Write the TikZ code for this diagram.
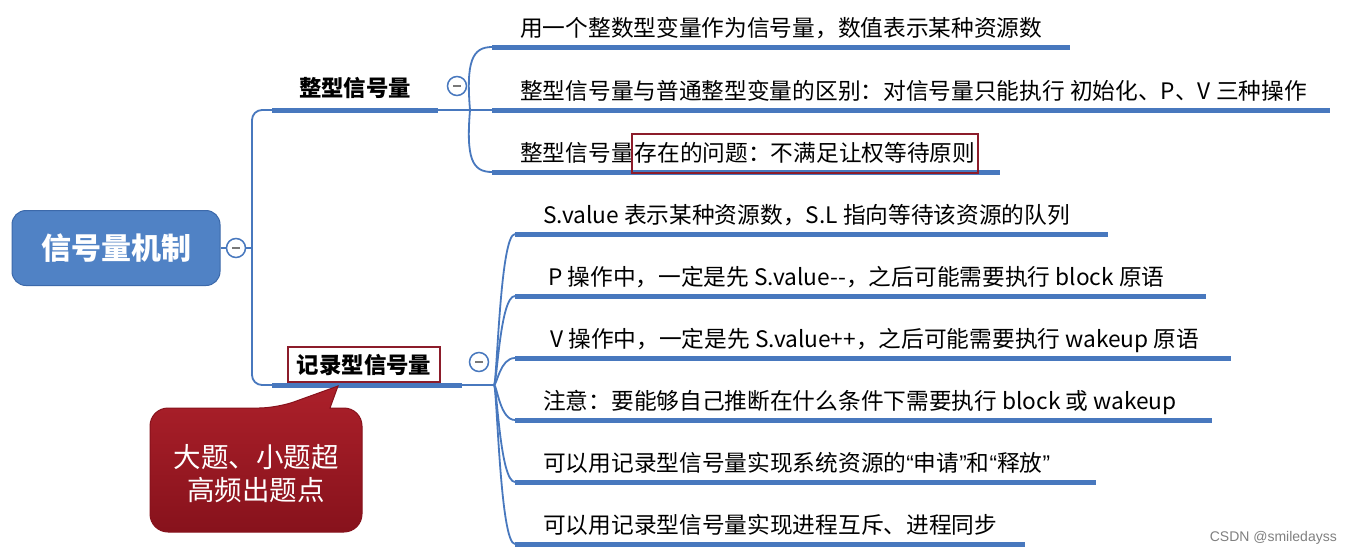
\documentclass[tikz,border=0pt]{standalone}
\usepackage{fontspec}
\setmainfont{Noto Sans CJK SC}
\newfontfamily\wmfont{Liberation Sans}
\definecolor{lineblue}{RGB}{72,120,190}
\definecolor{rootblue}{RGB}{80,130,197}
\definecolor{rootborder}{RGB}{60,105,170}
\definecolor{boxred}{RGB}{140,28,42}
\definecolor{calltop}{RGB}{172,32,42}
\definecolor{callbot}{RGB}{135,18,28}
\definecolor{togminus}{RGB}{120,120,120}
\begin{document}
\begin{tikzpicture}[x=1pt,y=-1pt,
  conn/.style={draw=lineblue, line width=1.8pt},
  ul/.style={draw=lineblue, line width=5pt},
  itemtext/.style={anchor=base west, inner sep=0pt, font=\fontsize{22.7}{27}\selectfont},
  togg/.style={circle, draw=lineblue, line width=1.5pt, fill=white, minimum size=19pt, inner sep=0pt,
    path picture={\draw[togminus, line width=1.5pt] ([xshift=-4pt]path picture bounding box.center) -- ([xshift=4pt]path picture bounding box.center);}},
]
\useasboundingbox (0,0) rectangle (1351,555);
\fill[white] (0,0) rectangle (1351,555);

% root
\node[draw=rootborder, line width=1pt, fill=rootblue, rounded corners=14pt, minimum width=208pt, minimum height=75pt,
  text=white, font=\fontsize{30}{36}\selectfont\bfseries] (root) at (116,248) {信号量机制};
\node[togg] (c0) at (236,248) {};

\coordinate (sp) at (252,248);
\coordinate (b1s) at (272,110); \coordinate (b1e) at (438,110); \coordinate (b1j) at (470,110);
\coordinate (b2s) at (272,385); \coordinate (b2e) at (462,385); \coordinate (b2j) at (494,385);

\draw[conn] (root.east) -- (c0.west);
\draw[conn] (c0.east) -- (sp);
\draw[conn, rounded corners=10pt] (b1s) -| (sp) |- (b2s);
\draw[ul] (b1s) -- (b1e);
\draw[conn] (b1e) -- (b1j);
\draw[ul] (b2s) -- (b2e);
\draw[conn] (b2e) -- (b2j);

% branch labels
\node[anchor=base, inner sep=0pt, font=\fontsize{22.4}{27}\selectfont\bfseries] (b1) at (355,96) {整型信号量};
\node[togg] (c1) at (457,86) {};
\node[draw=boxred, line width=1.8pt, minimum width=152pt, minimum height=35pt, inner sep=0pt,
  font=\fontsize{22.4}{27}\selectfont\bfseries] (b2) at (364,364.5) {记录型信号量};
\node[togg] (c2) at (479,362) {};

% group 1 items
\coordinate (i1s) at (492,47);  \coordinate (i1e) at (1070,47);
\coordinate (i2s) at (492,110); \coordinate (i2e) at (1330,110);
\coordinate (i3s) at (492,172); \coordinate (i3e) at (1000,172);
\draw[conn] (b1j) .. controls (466,62) and (472,47) .. (i1s);
\draw[conn] (b1j) -- (i2s);
\draw[conn] (b1j) .. controls (466,158) and (472,172) .. (i3s);
\draw[ul] (i1s) -- (i1e);
\draw[ul] (i2s) -- (i2e);
\draw[ul] (i3s) -- (i3e);
\node[itemtext] (i1) at (520,36) {用一个整数型变量作为信号量，数值表示某种资源数};
\node[itemtext] (i2) at (520,99) {整型信号量与普通整型变量的区别：对信号量只能执行 初始化、P、V 三种操作};
\node[itemtext] (i3) at (520,161) {整型信号量};
\node[anchor=base west, draw=boxred, line width=1.6pt, inner xsep=3pt, inner ysep=8pt, text height=19pt, text depth=4pt,
  font=\fontsize{22.7}{27}\selectfont] (i3b) at ([xshift=-3pt]i3.base east) {存在的问题：不满足让权等待原则};

% group 2 items
\coordinate (j1s) at (515,234); \coordinate (j1e) at (1108,234);
\coordinate (j2s) at (515,296); \coordinate (j2e) at (1206,296);
\coordinate (j3s) at (515,358); \coordinate (j3e) at (1231,358);
\coordinate (j4s) at (515,420); \coordinate (j4e) at (1212,420);
\coordinate (j5s) at (515,482); \coordinate (j5e) at (1096,482);
\coordinate (j6s) at (515,544); \coordinate (j6e) at (1025,544);
\foreach \k in {1,...,6}{
  \draw[conn] (b2j) .. controls (b2j -| 497,0) and (j\k s -| 500,0) .. (j\k s);
}
\foreach \k in {1,...,6}{ \draw[ul] (j\k s) -- (j\k e); }
\node[itemtext] (j1) at (543,223) {S.value 表示某种资源数，S.L 指向等待该资源的队列};
\node[itemtext] (j2) at (548,285) {P 操作中，一定是先 S.value-{}-，之后可能需要执行 block 原语};
\node[itemtext] (j3) at (550,347) {V 操作中，一定是先 S.value++，之后可能需要执行 wakeup 原语};
\node[itemtext] (j4) at (543,409) {注意：要能够自己推断在什么条件下需要执行 block 或 wakeup};
\node[itemtext] (j5) at (543,471) {可以用记录型信号量实现系统资源的{\wmfont “}申请{\wmfont ”}和{\wmfont “}释放{\wmfont ”}};
\node[itemtext] (j6) at (543,533) {可以用记录型信号量实现进程互斥、进程同步};

% callout
\path[draw=callbot, line width=1pt, top color=calltop, bottom color=callbot]
  [rounded corners=18pt] (150,470) |- (277,408) [sharp corners] -- (338,386) -- (330,408)
  [rounded corners=18pt] -| (362,532) -| (150,470) -- cycle;
\node[text=white, align=center, font=\fontsize{27.5}{33}\selectfont, inner sep=0pt] (callout) at (256,474) {大题、小题超\\高频出题点};

% watermark
\node[anchor=east, text=gray, font=\wmfont\fontsize{14}{16}\selectfont, inner sep=0pt] (wm) at (1337,538) {CSDN @smiledayss};
\end{tikzpicture}
\end{document}
